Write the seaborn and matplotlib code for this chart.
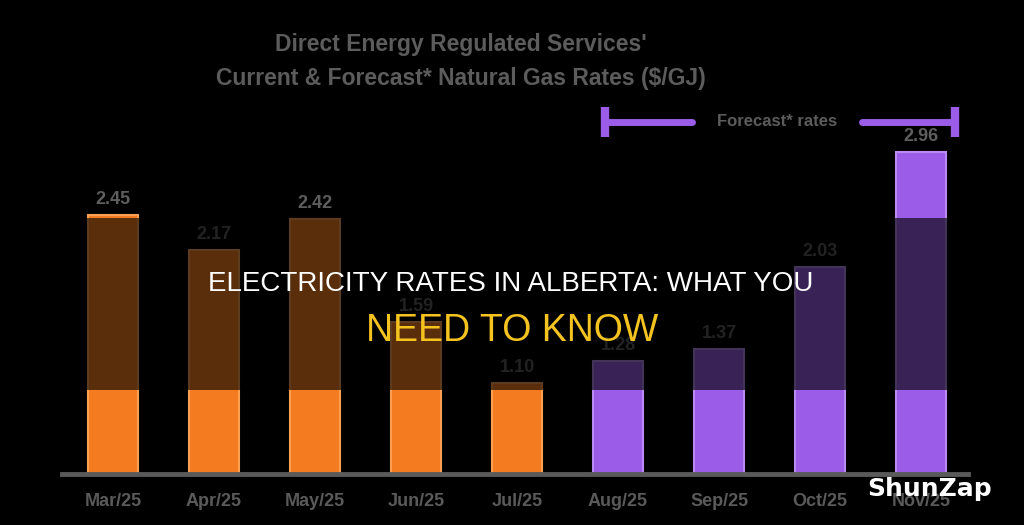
import matplotlib
matplotlib.use("Agg")
import matplotlib.pyplot as plt
import seaborn as sns
import pandas as pd
from matplotlib.patches import Rectangle
from matplotlib.lines import Line2D

months = ["Mar/25", "Apr/25", "May/25", "Jun/25", "Jul/25", "Aug/25", "Sep/25", "Oct/25", "Nov/25"]
rates = [2.45, 2.17, 2.42, 1.59, 1.10, 1.28, 1.37, 2.03, 2.96]
period = ["Current"] * 5 + ["Forecast"] * 4
labels = ["2.45", "2.17", "2.42", "1.59", "1.10", "1.28", "1.37", "2.03", "2.96"]

colors = {"Current": "#F47B20", "Forecast": "#9B5DE8"}
edges = {"Current": "#F9A052", "Forecast": "#B88AF2"}

df = pd.DataFrame({"month": months, "rate": rates, "period": period})

sns.set_theme(style="white")
plt.rcParams["font.family"] = ["Liberation Sans", "DejaVu Sans"]

W, H = 1024, 525
fig = plt.figure(figsize=(W / 100, H / 100), dpi=100, facecolor="black")

def fx(px):
    return px / W

def fy(py):
    return 1 - py / H

ax = fig.add_axes([fx(62), fy(474), fx(968) - fx(62), (474 - 100) / H])
ax.set_facecolor("black")

sns.barplot(data=df, x="month", y="rate", hue="period", palette=colors,
            dodge=False, width=0.5, legend=False, ax=ax, saturation=1)

for patch, p in zip(ax.patches, period):
    patch.set_edgecolor(edges[p])
    patch.set_linewidth(1.5)

ax.set_xlim(-0.505, 8.465)
ax.set_ylim(0.368, 3.374)

for i, (v, t) in enumerate(zip(rates, labels)):
    ax.annotate(t, (i, v), xytext=(0, 5), textcoords="offset points",
                ha="center", va="bottom", color="#5e5e5e",
                fontsize=13, fontweight="bold")

for s in ["top", "left", "right"]:
    ax.spines[s].set_visible(False)
ax.spines["bottom"].set_color("#5a5a5a")
ax.spines["bottom"].set_linewidth(3.5)
ax.set_yticks([])
ax.set_xlabel("")
ax.set_ylabel("")
ax.tick_params(axis="x", length=0, pad=14, colors="#5a5a5a")
for lab in ax.get_xticklabels():
    lab.set_fontsize(13)
    lab.set_fontweight("bold")
    lab.set_color("#5a5a5a")

# Title
fig.text(fx(461), fy(45), "Direct Energy Regulated Services'", ha="center", va="center",
         color="#5c5c5c", fontsize=16.5, fontweight="bold")
fig.text(fx(461), fy(78), "Current & Forecast* Natural Gas Rates ($/GJ)", ha="center", va="center",
         color="#5c5c5c", fontsize=16.5, fontweight="bold")

# Forecast bracket
purple = "#9B5DE8"
for (x0, x1) in [(605, 692), (862, 955)]:
    fig.add_artist(Line2D([fx(x0), fx(x1)], [fy(122), fy(122)], color=purple, lw=5,
                          solid_capstyle="round", transform=fig.transFigure))
for xv in [605, 955]:
    fig.add_artist(Line2D([fx(xv), fx(xv)], [fy(107), fy(137)], color=purple, lw=6,
                          solid_capstyle="butt", transform=fig.transFigure))
fig.text(fx(777), fy(122), "Forecast* rates", ha="center", va="center",
         color="#5c5c5c", fontsize=12, fontweight="bold")

# Dark overlay band
fig.add_artist(Rectangle((0, fy(390)), 1, (390 - 218) / H, transform=fig.transFigure,
                         facecolor="black", alpha=0.63, edgecolor="none", zorder=4))

fig.text(fx(511), fy(284), "ELECTRICITY RATES IN ALBERTA: WHAT YOU", ha="center", va="center",
         color="white", fontsize=20, zorder=6)
fig.text(fx(512), fy(331), "NEED TO KNOW", ha="center", va="center",
         color="#F5C320", fontsize=27, zorder=6)

fig.text(fx(930), fy(489), "ShunZap", ha="center", va="center", color="white",
         fontsize=18, fontweight="bold", family=["DejaVu Sans"], zorder=6)

fig.savefig("out.png", dpi=100, facecolor="black")
